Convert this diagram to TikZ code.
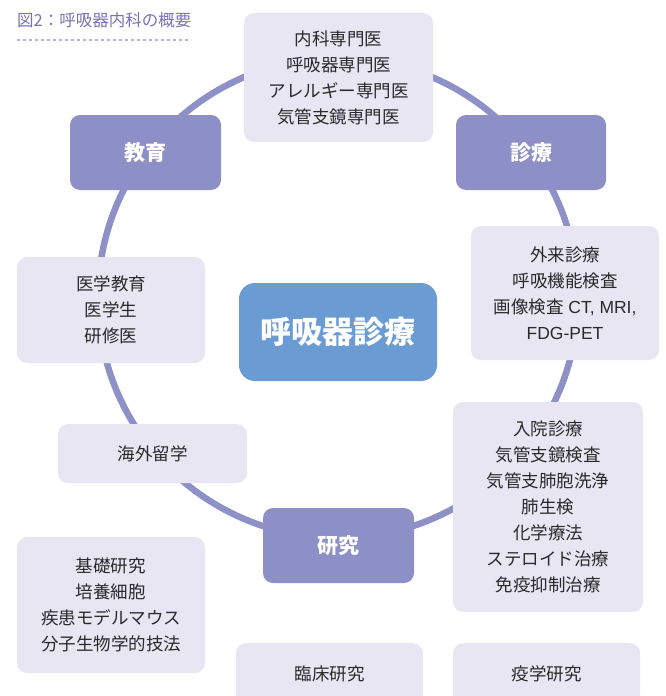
\documentclass[tikz,border=0pt]{standalone}
\usepackage{fontspec}
\setmainfont{Noto Sans CJK JP}
\newfontfamily\latfont{Liberation Sans}
\definecolor{ringc}{HTML}{8D91C8}
\definecolor{darkbox}{HTML}{8C90C6}
\definecolor{lightbox}{HTML}{E8E6F3}
\definecolor{mainbox}{HTML}{6A9BD3}
\definecolor{txt}{HTML}{2A2A2A}
\definecolor{titlec}{HTML}{7773B6}
\definecolor{dashc}{HTML}{B3B1D8}
\tikzset{
  litebox/.style={fill=lightbox, rounded corners=10pt, inner sep=0pt, align=center,
    text=txt, font=\fontsize{17.5}{26}\selectfont},
  catbox/.style={fill=darkbox, rounded corners=10pt, inner sep=0pt, align=center,
    text=white, font=\fontsize{21}{26}\selectfont\bfseries,
    minimum width=151pt, minimum height=75pt},
  centerbox/.style={fill=mainbox, rounded corners=16pt, inner sep=0pt, align=center,
    text=white, font=\fontsize{31}{36}\selectfont\bfseries,
    minimum width=198pt, minimum height=98pt},
  ring/.style={draw=ringc, line width=6.5pt}
}
\begin{document}
\begin{tikzpicture}[x=1pt,y=-1pt]
\useasboundingbox (0,0) rectangle (665,696);
\clip (0,0) rectangle (665,696);
% title
\node[anchor=west, text=titlec, font=\fontsize{16.5}{20}\selectfont, inner sep=0pt] (title) at (17,20) {図2：呼吸器内科の概要};
\coordinate (ulA) at (17,40);
\coordinate (ulB) at (191,40);
\draw[dashc, line width=1.2pt, dash pattern=on 3pt off 3pt] (ulA) -- (ulB);
% ring
\coordinate (ctr) at (338,298);
\draw[ring] (ctr) circle[radius=240pt];
% boxes
\node[litebox, minimum width=189pt, minimum height=129pt] (senmon) at (338.5,77.5)
  {内科専門医\\呼吸器専門医\\アレルギー専門医\\気管支鏡専門医};
\node[catbox] (kyoiku) at (145.5,152.5) {教育};
\node[catbox, minimum width=150pt] (shinryo) at (531,152.5) {診療};
\node[litebox, minimum width=188pt, minimum height=134pt] (gairai) at (565,293)
  {外来診療\\呼吸機能検査\\画像検査{\latfont\ CT, MRI,}\\{\latfont FDG-PET}};
\node[litebox, minimum width=188pt, minimum height=106pt] (igaku) at (111,310)
  {医学教育\\医学生\\研修医};
\node[centerbox] (main) at (338,332) {呼吸器診療};
\node[litebox, minimum width=189pt, minimum height=59pt] (kaigai) at (152.5,453.5) {海外留学};
\node[litebox, minimum width=190pt, minimum height=210pt] (nyuin) at (548,507)
  {入院診療\\気管支鏡検査\\気管支肺胞洗浄\\肺生検\\化学療法\\ステロイド治療\\免疫抑制治療};
\node[catbox] (kenkyu) at (338.5,545.5) {研究};
\node[litebox, minimum width=188pt, minimum height=136pt] (kiso) at (111,605)
  {基礎研究\\培養細胞\\疾患モデルマウス\\分子生物学的技法};
\node[litebox, minimum width=187pt, minimum height=62pt, anchor=north] (rinsho) at (329.5,643) {臨床研究};
\node[litebox, minimum width=187pt, minimum height=62pt, anchor=north] (ekigaku) at (546.5,643) {疫学研究};
\end{tikzpicture}
\end{document}
